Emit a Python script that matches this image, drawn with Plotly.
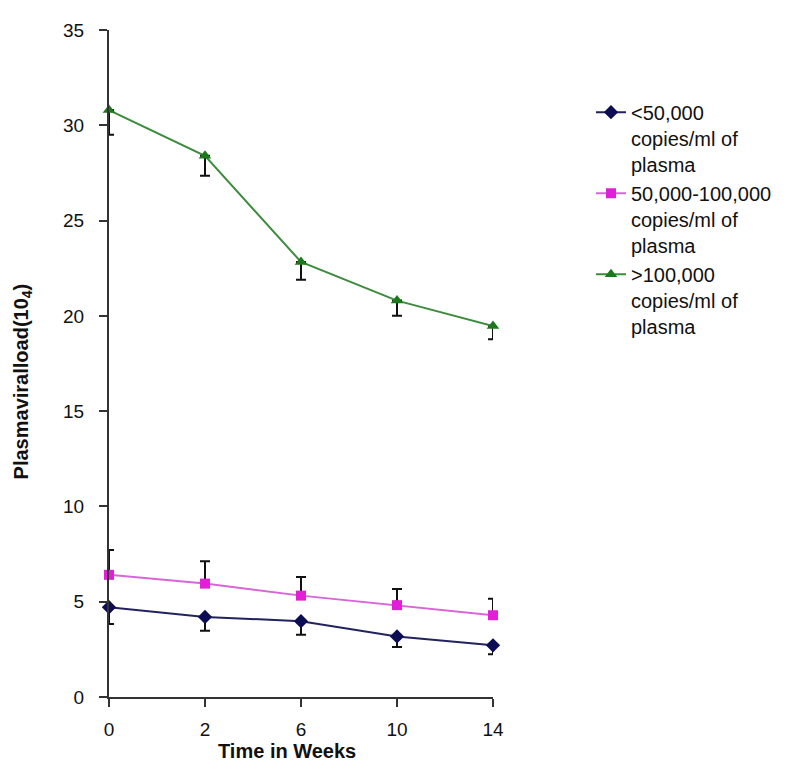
import plotly.graph_objects as go

# ---- data ----
weeks = ["0", "2", "6", "10", "14"]
low_vals = [4.71, 4.20, 3.98, 3.18, 2.71]
low_err_minus = [0.88, 0.72, 0.72, 0.55, 0.47]
mid_vals = [6.41, 5.95, 5.32, 4.82, 4.29]
mid_err_plus = [1.30, 1.17, 0.98, 0.85, 0.86]
high_vals = [30.8, 28.4, 22.83, 20.8, 19.47]
high_err_minus = [1.30, 1.05, 0.93, 0.80, 0.70]

names = [
    "&lt;50,000<br>copies/ml of<br>plasma",
    "50,000-100,000<br>copies/ml of<br>plasma",
    "&gt;100,000<br>copies/ml of<br>plasma",
]

xs = list(range(len(weeks)))
zeros = [0] * len(weeks)

fig = go.Figure()

fig.add_trace(go.Scatter(
    x=xs, y=low_vals, name=names[0], mode="lines+markers",
    line=dict(color="#22225e", width=2),
    marker=dict(symbol="diamond", size=11, color="#0d0d55"),
    error_y=dict(type="data", symmetric=False, array=zeros, arrayminus=low_err_minus,
                 color="#111111", thickness=2, width=5),
    cliponaxis=False,
))
fig.add_trace(go.Scatter(
    x=xs, y=mid_vals, name=names[1], mode="lines+markers",
    line=dict(color="#d866d8", width=2),
    marker=dict(symbol="square", size=10, color="#e21fd6"),
    error_y=dict(type="data", symmetric=False, array=mid_err_plus, arrayminus=zeros,
                 color="#111111", thickness=2, width=5),
    cliponaxis=False,
))
fig.add_trace(go.Scatter(
    x=xs, y=high_vals, name=names[2], mode="lines+markers",
    line=dict(color="#3d8c3d", width=2),
    marker=dict(symbol="triangle-up", size=11, color="#1c781c"),
    error_y=dict(type="data", symmetric=False, array=zeros, arrayminus=high_err_minus,
                 color="#111111", thickness=2, width=5),
    cliponaxis=False,
))

# page has an 8px body margin; work in figure coordinates (page - 8)
OFF = 8
W, H = 812 - 2 * OFF, 771 - 2 * OFF
L, T = 109 - OFF, 27 - OFF
PR, PB = 493 - OFF, 697 - OFF
R, B = W - PR, H - PB
pw = PR - L
ph = PB - T


def px(xp):
    return (xp - OFF - L) / pw


def py(yp):
    return (PB - (yp - OFF)) / ph


fig.update_layout(
    width=W, height=H,
    margin=dict(l=L, r=R, t=T, b=B, pad=0),
    paper_bgcolor="white", plot_bgcolor="white",
    font=dict(family="Liberation Sans, Arial, sans-serif", size=19, color="#111111"),
    showlegend=True,
    legend=dict(
        x=px(591), y=py(90), xanchor="left", yanchor="top",
        font=dict(size=20, color="#111111"),
        valign="top", bgcolor="rgba(0,0,0,0)",
    ),
    xaxis=dict(
        tickmode="array", tickvals=xs, ticktext=weeks,
        range=[0, len(weeks) - 1],
        showgrid=False, zeroline=False,
        showline=True, linecolor="#333333", linewidth=2,
        ticks="outside", ticklen=8, tickwidth=2, tickcolor="#333333",
        ticklabelstandoff=6,
        tickfont=dict(size=19),
    ),
    yaxis=dict(
        range=[0, 35], tickmode="linear", tick0=0, dtick=5,
        showgrid=False, zeroline=False,
        showline=True, linecolor="#333333", linewidth=2,
        ticks="outside", ticklen=8, tickwidth=2, tickcolor="#333333",
        ticklabelstandoff=11,
        tickfont=dict(size=19),
    ),
    annotations=[
        dict(text="<b>Time in Weeks</b>", xref="paper", yref="paper",
             x=px(287), y=py(751), xanchor="center", yanchor="middle",
             showarrow=False, font=dict(size=20)),
        dict(text="<b>Plasmaviralload(10<sub>4</sub>)</b>", xref="paper", yref="paper",
             x=px(22), y=py(380), xanchor="center", yanchor="middle",
             textangle=-90, showarrow=False, font=dict(size=20)),
    ],
)

fig.write_html("out.html")
